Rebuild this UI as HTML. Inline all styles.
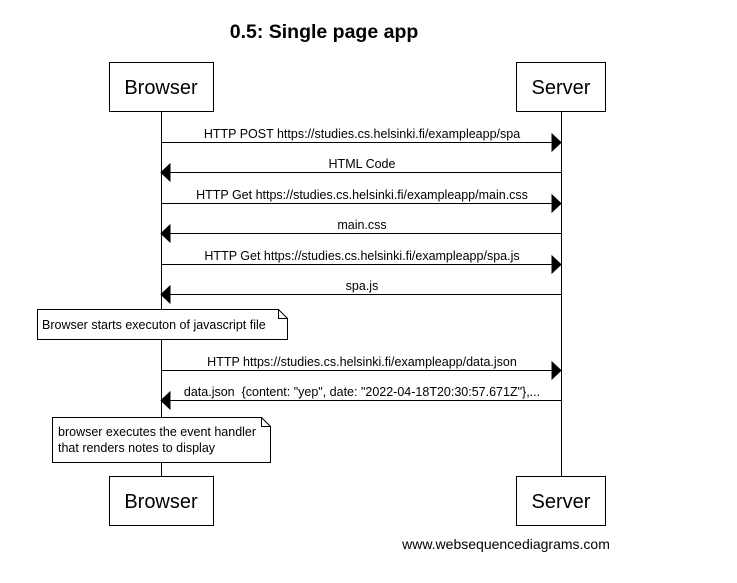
<!DOCTYPE html><html><head><style>body{margin:0;background:#fff}</style></head><body>
<svg width="737" height="578" xmlns="http://www.w3.org/2000/svg" font-family="Liberation Sans, Arial, sans-serif">
<rect width="737" height="578" fill="#fff"/>
<text x="324" y="38" font-size="19.5" font-weight="bold" text-anchor="middle">0.5: Single page app</text>
<g stroke="#000" stroke-width="1" fill="#fff">
<line x1="161.5" y1="112" x2="161.5" y2="476"/>
<line x1="561.5" y1="112" x2="561.5" y2="476"/>
<rect x="109.5" y="62.5" width="104" height="49"/>
<rect x="516.5" y="62.5" width="89" height="49"/>
<rect x="109.5" y="476.5" width="104" height="49"/>
<rect x="516.5" y="476.5" width="89" height="49"/>
</g>
<g font-size="20" text-anchor="middle">
<text x="161" y="94">Browser</text><text x="561" y="94">Server</text>
<text x="161" y="508">Browser</text><text x="561" y="508">Server</text>
</g>
<g stroke="#000" fill="#000">
<line x1="161" y1="142.5" x2="552" y2="142.5"/><path d="M552 134L561 142.5L552 151Z"/>
<line x1="170" y1="172.5" x2="561" y2="172.5"/><path d="M170 164L161 172.5L170 181Z"/>
<line x1="161" y1="203.5" x2="552" y2="203.5"/><path d="M552 195L561 203.5L552 212Z"/>
<line x1="170" y1="233.5" x2="561" y2="233.5"/><path d="M170 225L161 233.5L170 242Z"/>
<line x1="161" y1="264.5" x2="552" y2="264.5"/><path d="M552 256L561 264.5L552 273Z"/>
<line x1="170" y1="294.5" x2="561" y2="294.5"/><path d="M170 286L161 294.5L170 303Z"/>
<line x1="161" y1="370.5" x2="552" y2="370.5"/><path d="M552 362L561 370.5L552 379Z"/>
<line x1="170" y1="400.5" x2="561" y2="400.5"/><path d="M170 392L161 400.5L170 409Z"/>
</g>
<g font-size="12.5" text-anchor="middle" fill="#000">
<text x="362" y="138">HTTP POST https://studies.cs.helsinki.fi/exampleapp/spa</text>
<text x="362" y="168">HTML Code</text>
<text x="362" y="199">HTTP Get https://studies.cs.helsinki.fi/exampleapp/main.css</text>
<text x="362" y="229">main.css</text>
<text x="362" y="260">HTTP Get https://studies.cs.helsinki.fi/exampleapp/spa.js</text>
<text x="362" y="290">spa.js</text>
<text x="362" y="366">HTTP https://studies.cs.helsinki.fi/exampleapp/data.json</text>
<text x="362" y="396" style="white-space:pre">data.json  {content: "yep", date: "2022-04-18T20:30:57.671Z"},...</text>
</g>
<g stroke="#000" fill="#fff">
<path d="M37.5 309.5H278.5L287.5 318.5V339.5H37.5Z"/><path d="M278.5 309.5V318.5H287.5" fill="none"/>
<path d="M52.5 417.5H261.5L270.5 426.5V462.5H52.5Z"/><path d="M261.5 417.5V426.5H270.5" fill="none"/>
</g>
<g font-size="12.5" fill="#000">
<text x="42" y="329">Browser starts executon of javascript file</text>
<text x="58" y="436">browser executes the event handler</text>
<text x="58" y="452">that renders notes to display</text>
</g>
<text x="506" y="549" font-size="14" text-anchor="middle">www.websequencediagrams.com</text>
</svg></body></html>
